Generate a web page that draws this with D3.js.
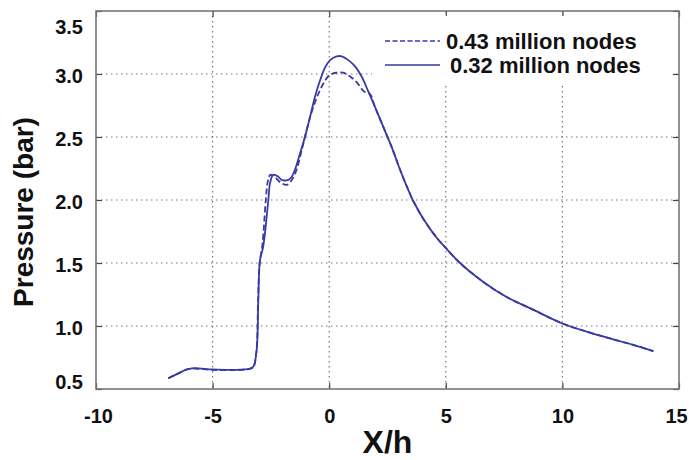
<!DOCTYPE html>
<html>
<head>
<meta charset="utf-8">
<script src="https://cdn.jsdelivr.net/npm/d3@7/dist/d3.min.js"></script>
<style>
  html, body { margin: 0; padding: 0; background: #fff; }
  svg { display: block; }
  text { font-family: "Liberation Sans", Arial, Helvetica, sans-serif; font-weight: bold; fill: #111; }
</style>
</head>
<body>
<svg id="chart" width="689" height="460"></svg>
<script>
// Pressure distribution along X/h for two mesh resolutions
const xTicks = [-10, -5, 0, 5, 10, 15];
const yTicks = [0.5, 1.0, 1.5, 2.0, 2.5, 3.0, 3.5];
const xTickLabels = ["-10", "-5", "0", "5", "10", "15"];
const yTickLabels = ["0.5", "1.0", "1.5", "2.0", "2.5", "3.0", "3.5"];
const seriesNames = ["0.43 million nodes", "0.32 million nodes"];

// 0.32 million nodes (solid)
const xCoarse = [-6.9, -6.4, -6.1, -5.8, -5.0, -4.1, -3.4, -3.25, -3.11, -3.04, -2.97, -2.83, -2.61, -2.54, -2.4, -2.18, -2.04, -1.75,
  -1.62, -1.47, -1.25, -1.04, -0.82, -0.61, -0.39, -0.18, 0.04, 0.32, 0.54, 0.82, 1.11, 1.39, 1.68, 1.96, 2.32, 2.68, 3.04, 3.46,
  3.61, 4.04, 4.61, 4.97, 5.61, 6.61, 7.61, 8.74, 10.0, 11.04, 12.18, 13.04, 13.9];
const pCoarse = [0.585, 0.63, 0.655, 0.665, 0.655, 0.652, 0.662, 0.678, 0.81, 1.2, 1.52, 1.63, 2.0, 2.13, 2.2, 2.185, 2.16, 2.16,
  2.18, 2.24, 2.37, 2.5, 2.66, 2.82, 2.95, 3.05, 3.11, 3.14, 3.14, 3.11, 3.06, 2.98, 2.86, 2.74, 2.58, 2.42, 2.24, 2.05,
  1.99, 1.85, 1.70, 1.625, 1.50, 1.35, 1.23, 1.13, 1.02, 0.955, 0.894, 0.85, 0.80];

// 0.43 million nodes (dashed)
const xFine = [-6.9, -6.4, -6.1, -5.8, -5.0, -4.0, -3.4, -3.25, -3.12, -3.05, -2.98, -2.86, -2.72, -2.63, -2.52, -2.32, -2.1, -1.82,
  -1.6, -1.4, -1.2, -1.0, -0.8, -0.6, -0.4, -0.2, 0.0, 0.3, 0.6, 0.9, 1.2, 1.5, 1.75, 1.96, 2.32, 2.68, 3.04, 3.46,
  3.61, 4.04, 4.61, 4.97, 5.61, 6.61, 7.61, 8.74, 10.0, 11.04, 12.18, 13.04, 13.9];
const pFine = [0.585, 0.63, 0.655, 0.662, 0.652, 0.65, 0.66, 0.675, 0.80, 1.2, 1.5, 1.65, 2.0, 2.15, 2.2, 2.18, 2.14, 2.12,
  2.16, 2.24, 2.38, 2.53, 2.67, 2.78, 2.87, 2.94, 2.99, 3.01, 3.01, 2.98, 2.93, 2.86, 2.84, 2.74, 2.58, 2.42, 2.24, 2.05,
  1.99, 1.85, 1.70, 1.625, 1.50, 1.35, 1.23, 1.13, 1.02, 0.955, 0.894, 0.85, 0.80];

const svg = d3.select("#chart");
const plot = { left: 96, right: 679, top: 11, bottom: 389 };
const lineColor = "#3a3aa6";

const x = d3.scaleLinear().domain([-10, 15]).range([plot.left, plot.right]);
const y = d3.scaleLinear().domain([0.5, 3.5]).range([plot.bottom, plot.top]);

// dotted grid
const grid = svg.append("g");
grid.selectAll("line.gx").data(xTicks.slice(1, -1)).join("line")
  .attr("x1", d => x(d)).attr("x2", d => x(d))
  .attr("y1", plot.top).attr("y2", plot.bottom)
  .attr("stroke", "#777").attr("stroke-width", 1.2).attr("stroke-dasharray", "1.5,3.5");
grid.selectAll("line.gy").data(yTicks.slice(1, -1)).join("line")
  .attr("x1", plot.left).attr("x2", plot.right)
  .attr("y1", d => y(d)).attr("y2", d => y(d))
  .attr("stroke", "#777").attr("stroke-width", 1.2).attr("stroke-dasharray", "1.5,3.5");

// axes with inward ticks
const axB = svg.append("g").attr("transform", `translate(0,${plot.bottom})`)
  .call(d3.axisBottom(x).tickValues(xTicks).tickSize(-6).tickFormat((d, i) => xTickLabels[i]));
const axT = svg.append("g").attr("transform", `translate(0,${plot.top})`)
  .call(d3.axisTop(x).tickValues(xTicks).tickSize(-6).tickFormat(""));
const axL = svg.append("g").attr("transform", `translate(${plot.left},0)`)
  .call(d3.axisLeft(y).tickValues(yTicks).tickSize(-6).tickPadding(13).tickFormat((d, i) => yTickLabels[i]));
const axR = svg.append("g").attr("transform", `translate(${plot.right},0)`)
  .call(d3.axisRight(y).tickValues(yTicks).tickSize(-6).tickFormat(""));

[axB, axT, axL, axR].forEach(a => {
  a.select(".domain").remove();
  a.selectAll(".tick line").attr("stroke", "#444").attr("stroke-width", 1.2);
});
axB.selectAll(".tick text").attr("font-size", 20).attr("fill", "#111").attr("dy", 0).attr("y", 34)
  .attr("x", d => d === 15 ? -3 : d === -10 ? 2 : 0);
axL.selectAll(".tick text").attr("font-size", 20).attr("fill", "#111")
  .attr("dy", d => d === 3.5 ? "1.1em" : d === 0.5 ? "-0.05em" : "0.4em");

// frame
svg.append("rect")
  .attr("x", plot.left).attr("y", plot.top)
  .attr("width", plot.right - plot.left).attr("height", plot.bottom - plot.top)
  .attr("fill", "none").attr("stroke", "#777").attr("stroke-width", 1.6);

// curves
const line = d3.line().x(d => x(d[0])).y(d => y(d[1])).curve(d3.curveCatmullRom.alpha(0.5));
const fine = xFine.map((v, i) => [v, pFine[i]]);
const coarse = xCoarse.map((v, i) => [v, pCoarse[i]]);

svg.append("path").datum(fine).attr("d", line)
  .attr("fill", "none").attr("stroke", lineColor).attr("stroke-width", 1.8)
  .attr("stroke-dasharray", "6,3");
svg.append("path").datum(coarse).attr("d", line)
  .attr("fill", "none").attr("stroke", lineColor).attr("stroke-width", 1.8);

// legend
const leg = svg.append("g");
leg.append("rect").attr("x", 372).attr("y", 16).attr("width", 300).attr("height", 68).attr("fill", "#fff");
const rows = [{ name: seriesNames[0], dash: "5,2.5", yy: 41, tx: 446 }, { name: seriesNames[1], dash: null, yy: 65, tx: 450 }];
rows.forEach(r => {
  leg.append("line").attr("x1", 385).attr("x2", 440).attr("y1", r.yy).attr("y2", r.yy)
    .attr("stroke", lineColor).attr("stroke-width", 1.6).attr("stroke-dasharray", r.dash);
  leg.append("text").attr("x", r.tx).attr("y", r.yy + 8).attr("font-size", 22).text(r.name);
});

// axis titles
svg.append("text").attr("x", (plot.left + plot.right) / 2).attr("y", 453)
  .attr("text-anchor", "middle").attr("font-size", 32).text("X/h");
svg.append("text").attr("transform", "translate(33,212) rotate(-90)")
  .attr("text-anchor", "middle").attr("font-size", 28).text("Pressure (bar)");
</script>
</body>
</html>
